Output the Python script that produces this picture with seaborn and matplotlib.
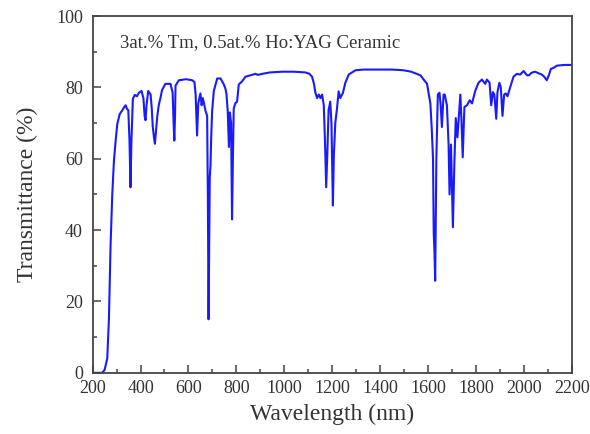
import matplotlib
matplotlib.use("Agg")
import matplotlib.pyplot as plt
import seaborn as sns
import pandas as pd
from matplotlib.ticker import MultipleLocator

wavelength = [200, 240, 250, 261, 268, 275, 282, 289, 296, 303, 313, 324, 332, 338, 343, 349, 354, 358, 362, 368,
              376, 385, 393, 404, 412, 417, 421, 425, 432, 442, 447, 451, 456, 460, 465, 470, 476, 483, 490, 504,
              525, 534, 538, 541, 544, 546, 560, 590, 616, 625, 630, 636, 641, 650, 655, 660, 665, 671, 678, 681,
              684, 687, 689, 692, 695, 699, 706, 720, 734, 748, 755, 759, 764, 769, 773, 778, 782, 786, 789, 795,
              803, 810, 824, 838, 859, 880, 890, 908, 940, 991, 1040, 1088, 1105, 1116, 1124, 1130, 1137,
              1144, 1151, 1158, 1165, 1170, 1175, 1180, 1185, 1192, 1197, 1203, 1207, 1213, 1220, 1227, 1234, 1245,
              1255, 1269, 1297, 1331, 1400, 1450, 1498, 1530, 1568, 1596, 1610, 1616, 1621, 1624, 1627, 1630,
              1635, 1641, 1648, 1653, 1658, 1665, 1670, 1679, 1686, 1690, 1696, 1700, 1704, 1710,
              1716, 1723, 1729, 1735, 1740, 1745, 1752, 1763, 1774, 1784, 1797, 1811, 1825, 1839,
              1846, 1857, 1864, 1871, 1877, 1885, 1890, 1898, 1904, 1911, 1918, 1925, 1932, 1943, 1957, 1971,
              1985, 1999, 2013, 2022, 2030, 2040, 2047, 2060, 2075, 2085, 2096, 2105, 2113, 2125, 2138, 2170, 2200]
transmittance = [0, 0, 0.8, 4, 15, 36, 50, 59.5, 65, 69.8, 72.5, 73.6, 74.5, 75, 74, 73.6, 65, 52, 65, 76.8,
                 77.9, 77.5, 78.5, 79, 77, 72, 70.8, 75, 79, 78, 74, 69, 66, 64.2, 68, 72, 75, 77, 79.3, 81,
                 81, 78.5, 70, 65.1, 72, 80.5, 82, 82.3, 82, 81.5, 78, 66.5, 75.5, 78.3, 75, 77, 75.5, 73.5, 72, 50,
                 15, 40, 54.8, 58, 66, 73.5, 79, 82.5, 82.5, 80.8, 79.5, 78, 73.3, 63.3, 73, 70, 43, 62, 74, 75.5,
                 76, 80.8, 81.7, 83, 83.4, 83.8, 83.5, 83.8, 84.2, 84.4, 84.4, 84.2, 83.8, 83, 81, 78.5, 77,
                 78, 77, 78, 75, 65, 52, 62, 73.6, 76, 70, 46.9, 61, 70, 74, 78.9, 77, 78.5,
                 81.3, 83.6, 84.8, 85, 85, 85, 84.8, 84.4, 83.4, 81, 75.5, 68, 60, 39, 34, 25.8,
                 60, 78, 78.5, 75, 68.9, 78, 78, 75, 64, 50, 64, 52, 40.8, 58.5,
                 71.4, 66, 72, 78, 70.5, 60.4, 74.5, 75, 76.4, 75.5, 79, 81.3, 82.2, 81,
                 82.2, 81.3, 75, 78.7, 78, 71.2, 78.7, 81.3, 80, 72, 78, 78.3, 77.5, 80, 83, 83.8,
                 83.6, 84.6, 83.4, 83.4, 84, 84.3, 84.4, 84, 83.6, 83, 82, 83.5, 85.2, 85.5, 86.1, 86.3, 86.3]
x_ticks = [200, 400, 600, 800, 1000, 1200, 1400, 1600, 1800, 2000, 2200]
y_ticks = [0, 20, 40, 60, 80, 100]
annotation = "3at.% Tm, 0.5at.% Ho:YAG Ceramic"

df = pd.DataFrame({"Wavelength": wavelength, "Transmittance": transmittance})

sns.set_theme(style="ticks")
plt.rcParams["font.family"] = ["Liberation Serif", "DejaVu Serif"]
txt = "#333333"

fig = plt.figure(figsize=(5.9, 4.34), dpi=100)
ax = fig.add_axes([0.157, 0.141, 0.812, 0.822])
sns.lineplot(data=df, x="Wavelength", y="Transmittance", ax=ax, color="#1a1aff",
             linewidth=1.5, estimator=None, sort=False)

ax.set_xlim(200, 2200)
ax.set_ylim(0, 100)
ax.set_xticks(x_ticks)
ax.set_yticks(y_ticks)
ax.xaxis.set_minor_locator(MultipleLocator(100))
ax.yaxis.set_minor_locator(MultipleLocator(10))
ax.tick_params(which="both", direction="in", colors="#444444", labelcolor=txt, width=1.1)
ax.tick_params(which="major", length=5.5, labelsize=13)
ax.tick_params(which="minor", length=3)
ax.tick_params(axis="x", which="major", pad=5)
ax.tick_params(axis="y", which="major", pad=7)
for s in ax.spines.values():
    s.set_visible(True)
    s.set_color("#444444")
    s.set_linewidth(1.3)

ax.set_xlabel("Wavelength (nm)", fontsize=17, color=txt, labelpad=5)
ax.set_ylabel("Transmittance (%)", fontsize=17, color=txt, labelpad=13)
ax.text(0.057, 0.913, annotation, transform=ax.transAxes, fontsize=13.5, color=txt,
        ha="left", va="baseline")

fig.savefig("out.png", dpi=100)
